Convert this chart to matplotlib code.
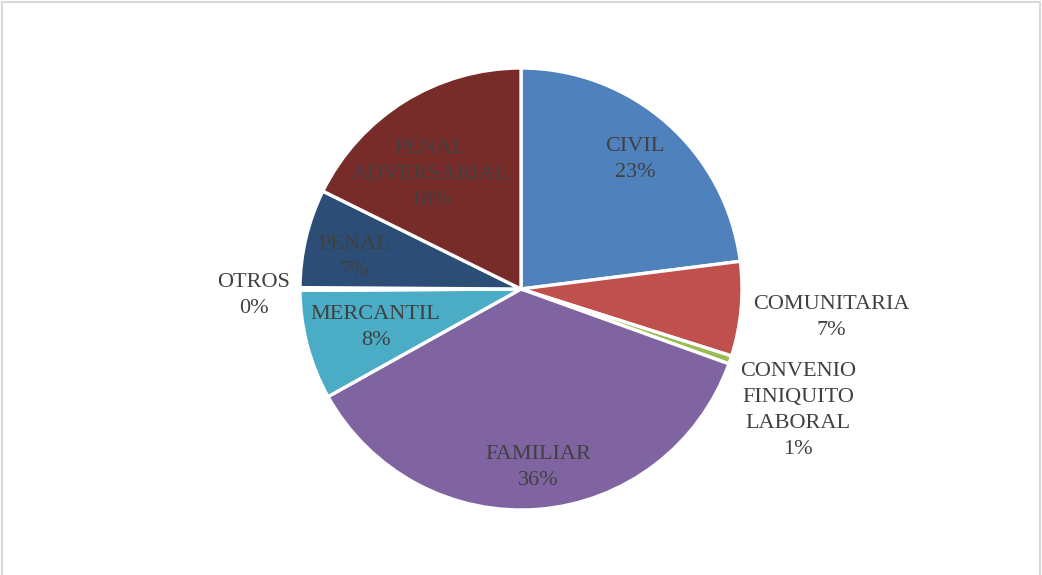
import numpy as np
import matplotlib.pyplot as plt
from matplotlib.patches import Rectangle

categories = ['CIVIL', 'COMUNITARIA', 'CONVENIO\nFINIQUITO\nLABORAL', 'FAMILIAR',
              'MERCANTIL', 'OTROS', 'PENAL', 'PENAL\nADVERSARIAL']
values = [23.0, 6.9, 0.6, 36.4, 8.0, 0.2, 7.2, 17.7]
colors = ['#4F81BD', '#C0504D', '#9BBB59', '#8064A2',
          '#4BACC6', '#F79646', '#2C4D75', '#772C2A']

# label placement: distance from centre (fraction of radius) and angle tweak (deg)
label_r = [0.78, 1.41, 1.37, 0.81, 0.68, 1.21, 0.77, 0.66]
label_dang = [0, 0, -5, 1, 0, 1.5, 2.5, 6.5]

plt.rcParams['font.family'] = ['Liberation Serif', 'DejaVu Serif']

W, H = 1042, 575
cx, cy, R = 521, 286, 221   # pixels, y from bottom

fig = plt.figure(figsize=(W / 100, H / 100), dpi=100)
ax = fig.add_axes([0, 0, 1, 1])

wedges, _ = ax.pie(values, colors=colors, startangle=90, counterclock=False,
                   radius=1, center=(0, 0),
                   wedgeprops=dict(edgecolor='white', linewidth=2.4))
ax.set_xlim(-cx / R, (W - cx) / R)
ax.set_ylim(-cy / R, (H - cy) / R)
ax.axis('off')

total = sum(values)
for w, name, v, r, da in zip(wedges, categories, values, label_r, label_dang):
    ang = np.deg2rad((w.theta1 + w.theta2) / 2 + da)
    x, y = r * np.cos(ang), r * np.sin(ang)
    ax.text(x, y, f'{name}\n{round(v / total * 100):.0f}%', ha='center', va='center',
            fontsize=16, color='#404040', linespacing=1.5)

fig.patches.append(Rectangle((0.002, -0.01), 0.996, 1.006, transform=fig.transFigure,
                             fill=False, edgecolor='#d9d9d9', linewidth=1.5))

fig.savefig('out.png', dpi=100)
